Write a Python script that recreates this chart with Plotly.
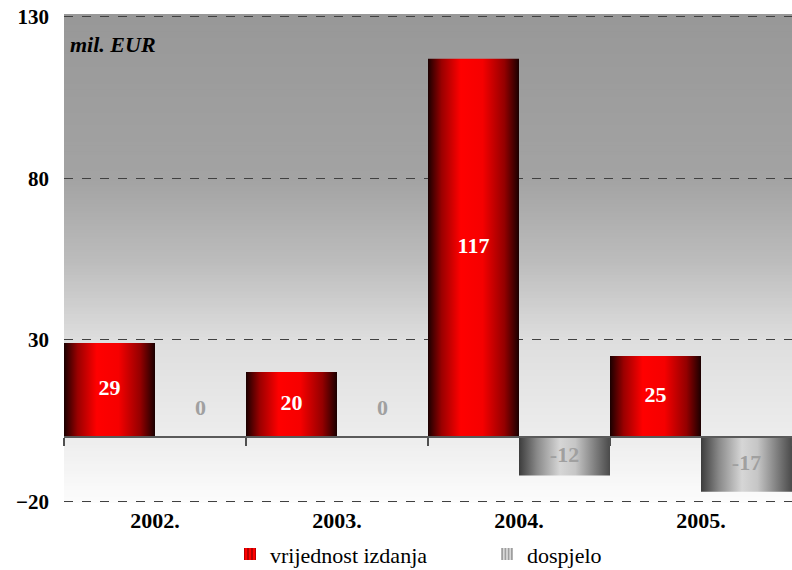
import plotly.graph_objects as go
import numpy as np

# ---- data ----
years = ["2002.", "2003.", "2004.", "2005."]
issued = [29, 20, 117, 25]          # vrijednost izdanja
matured = [0, 0, -12, -17]          # dospjelo
y_ticks = [-20, 30, 80, 130]
series_names = ["vrijednost izdanja", "dospjelo"]
unit_label = "mil. EUR"

Y_MIN, Y_MAX = -20, 130
PAD = 0.5
FONT = "Times New Roman, Liberation Serif, serif"

red_scale = [[0, "#1a0000"], [0.15, "#9a0000"], [0.36, "#ff0000"], [0.6, "#f60000"],
             [0.84, "#940000"], [1, "#1a0000"]]
gray_scale = [[0, "#3c3c3c"], [0.2, "#8a8a8a"], [0.45, "#d6d6d6"], [0.62, "#c6c6c6"],
              [0.85, "#7a7a7a"], [1, "#4a4a4a"]]

fig = go.Figure()

def bar_poly(x0, x1, v):
    return [x0, x0, x1, x1, x0], [0, v, v, 0, 0]

for s, (vals, scale, name, side) in enumerate([
        (issued, red_scale, series_names[0], -0.5),
        (matured, gray_scale, series_names[1], 0.0)]):
    for i, v in enumerate(vals):
        x0 = i + side
        xs, ys = bar_poly(x0, x0 + 0.5, v)
        fig.add_trace(go.Scatter(
            x=xs, y=ys, mode="lines", fill="toself",
            line=dict(width=0, color=scale[2][1]),
            fillgradient=dict(type="horizontal", colorscale=scale),
            name=name, showlegend=False, hoverinfo="skip"))

# legend-only entries (square, striped icons)
fig.add_trace(go.Bar(x=[None], y=[None], name=series_names[0],
                     marker=dict(color="#ff0000", line=dict(width=0),
                                 pattern=dict(shape="|", fgcolor="#5a0000", bgcolor="#ff0000",
                                              size=5, solidity=0.45))))
fig.add_trace(go.Bar(x=[None], y=[None], name=series_names[1],
                     marker=dict(color="#c0c0c0", line=dict(width=0),
                                 pattern=dict(shape="|", fgcolor="#555555", bgcolor="#d8d8d8",
                                              size=4, solidity=0.45))))

# data labels
lab_x = [i - 0.25 for i in range(len(years))]
lab_y = [v / 2 for v in issued]
fig.add_trace(go.Scatter(
    x=lab_x, y=lab_y, mode="text", text=[str(v) for v in issued],
    textfont=dict(family=FONT, size=22, color="white", weight="bold"),
    showlegend=False, hoverinfo="skip"))
lab_x2 = [i + 0.25 for i in range(len(years))]
lab_y2 = [v / 2 if v != 0 else 8.5 for v in matured]
fig.add_trace(go.Scatter(
    x=lab_x2, y=lab_y2, mode="text", text=[str(v) for v in matured],
    textfont=dict(family=FONT, size=22, color="#a0a0a0", weight="bold"),
    showlegend=False, hoverinfo="skip"))

# invisible trace for the zero axis (xaxis2)
fig.add_trace(go.Scatter(x=[-0.5, len(years) - 0.5], y=[0, 0], xaxis="x2", mode="lines",
                         line=dict(width=0), showlegend=False, hoverinfo="skip"))

# background gradient (dark gray top -> near white bottom)
stops_y = [130, 80, 55, 30, 0, -20]
stops_c = [152, 163, 187, 222, 237, 252]
n = 150
shapes = []
for k in range(n):
    p0 = k / n
    p1 = (k + 1) / n
    yv = (Y_MIN - PAD) + (p0 + p1) / 2 * (Y_MAX - Y_MIN + 2 * PAD)
    c = int(round(np.interp(yv, stops_y[::-1], stops_c[::-1])))
    shapes.append(dict(type="rect", xref="paper", yref="paper", x0=0, x1=1,
                       y0=p0, y1=p1 + 0.002, fillcolor=f"rgb({c},{c},{c})",
                       line=dict(width=0), layer="below"))

zero_pos = (0 - (Y_MIN - PAD)) / (Y_MAX - Y_MIN + 2 * PAD)

fig.update_layout(
    width=792, height=570,
    margin=dict(l=64, r=0, t=15, b=67, autoexpand=False),
    paper_bgcolor="white", plot_bgcolor="rgba(0,0,0,0)",
    shapes=shapes,
    font=dict(family=FONT, color="black"),
    xaxis=dict(range=[-0.5, len(years) - 0.5], tickvals=list(range(len(years))),
               ticktext=years, showgrid=False, zeroline=False, showline=False,
               ticks="", tickfont=dict(family=FONT, size=22, weight="bold"),
               ticklabelstandoff=2),
    xaxis2=dict(range=[-0.5, len(years) - 0.5], overlaying="x", anchor="free",
                position=zero_pos, side="bottom",
                tickvals=[i - 0.5 for i in range(len(years) + 1)],
                showticklabels=False, ticks="outside", ticklen=8, tickwidth=1.5,
                tickcolor="#505050", showline=True, linecolor="#5a5a5a",
                linewidth=2, showgrid=False, zeroline=False),
    yaxis=dict(range=[Y_MIN - PAD, Y_MAX + PAD], tickvals=y_ticks, showgrid=True,
               gridcolor="#404040", griddash="dash", gridwidth=1,
               zeroline=False, showline=False, ticks="",
               tickfont=dict(family=FONT, size=21, weight="bold"),
               ticklabelstandoff=14),
    barmode="overlay",
    legend=dict(orientation="h", x=(230 - 64) / 728, xanchor="left", y=-0.105,
                yanchor="middle", font=dict(family=FONT, size=22),
                entrywidth=212, entrywidthmode="pixels",
                bgcolor="rgba(0,0,0,0)", itemwidth=30),
    annotations=[dict(text=f"<b><i>{unit_label}</i></b>", xref="paper", yref="paper",
                      x=0.006, y=0.94, xanchor="left", yanchor="middle", showarrow=False,
                      font=dict(family=FONT, size=22, color="black"))],
)

fig.write_html("out.html", config={"displayModeBar": False},
               post_script="document.body.style.margin='0';document.body.style.padding='0';")
